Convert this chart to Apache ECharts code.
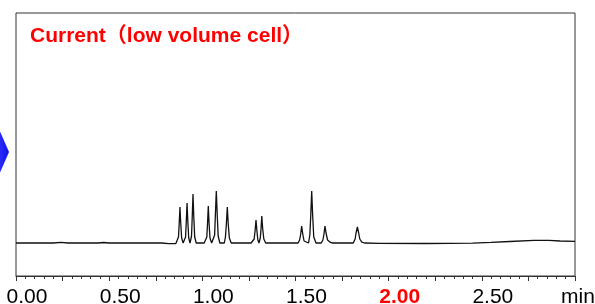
<!DOCTYPE html>
<html>
<head>
<meta charset="utf-8">
<script src="https://cdn.jsdelivr.net/npm/echarts@6/dist/echarts.min.js"></script>
<style>
  html, body { margin: 0; padding: 0; background: #fff; }
  #chart { width: 595px; height: 304px; }
</style>
</head>
<body>
<div id="chart"></div>
<script>
// chromatogram trace, [time (min), signal]
const trace = [
  [0.00, 0], [0.20, 0], [0.24, 0.6], [0.28, 0], [0.44, 0], [0.47, 0.5], [0.50, 0],
  [0.78, 0], [0.82, -0.6], [0.858, -0.6],
  [0.866, 0], [0.872, 6], [0.876, 20], [0.880, 36], [0.884, 20], [0.889, 5], [0.897, 0],
  [0.904, 0], [0.910, 6], [0.914, 22], [0.918, 40], [0.922, 22], [0.927, 5], [0.934, 0],
  [0.938, 0], [0.942, 7], [0.946, 27], [0.950, 49], [0.954, 27], [0.959, 6], [0.967, 0],
  [1.010, 0],
  [1.018, 0], [1.024, 6], [1.028, 20], [1.032, 37], [1.036, 20], [1.041, 5], [1.050, 0],
  [1.060, 0], [1.066, 8], [1.070, 28], [1.075, 52], [1.080, 28], [1.085, 7], [1.094, 0],
  [1.118, 0], [1.124, 6], [1.129, 19], [1.134, 36], [1.139, 19], [1.145, 5], [1.155, 0],
  [1.262, 0],
  [1.272, 0], [1.278, 4], [1.283, 12], [1.288, 23], [1.293, 12], [1.298, 3], [1.304, 0],
  [1.307, 0], [1.311, 5], [1.315, 14], [1.319, 27], [1.324, 14], [1.330, 4], [1.340, 0],
  [1.385, 0], [1.395, 1.2], [1.405, 0], [1.420, 0], [1.429, 1], [1.438, 0],
  [1.514, 0], [1.522, 3], [1.528, 9], [1.533, 17], [1.539, 9], [1.546, 2], [1.556, 0],
  [1.570, 0], [1.577, 8], [1.582, 28], [1.587, 52], [1.592, 28], [1.598, 6], [1.610, 0],
  [1.638, 0], [1.647, 3], [1.653, 9], [1.658, 17], [1.664, 10], [1.672, 3], [1.688, 0.6], [1.700, 0],
  [1.810, 0], [1.820, 4], [1.825, 10], [1.832, 16], [1.839, 10], [1.845, 4], [1.856, 0.8], [1.870, 0],
  [1.95, -0.4], [2.20, -0.5], [2.45, -0.2], [2.55, 0.6], [2.65, 1.5], [2.78, 2.6], [2.86, 2.7],
  [2.92, 2.0], [3.00, 1.6]
]

const tickValues = [0, 0.5, 1.0, 1.5, 2.0, 2.5, 3.0]
const tickLabels = ['0.00', '0.50', '1.00', '1.50', '2.00', '2.50', 'min']
const highlightLabel = '2.00'
const titleText = 'Current（low volume cell）'

const chart = echarts.init(document.getElementById('chart'))

function labelFor(v) {
  const i = tickValues.findIndex(t => Math.abs(t - v) < 1e-6)
  if (i < 0) return ''
  const txt = tickLabels[i]
  if (txt === highlightLabel) return '{r|' + txt + '}'
  if (txt === 'min') return '{m|' + txt + '}'
  return txt
}

const option = {
  animation: false,
  title: {
    text: titleText,
    left: 30,
    top: 26,
    padding: 0,
    textStyle: {
      color: '#ff0000',
      fontSize: 21,
      fontWeight: 'bold',
      fontFamily: 'Arial, "Liberation Sans", "Noto Sans CJK JP", sans-serif'
    }
  },
  grid: {
    left: 16,
    top: 13,
    right: 20,
    bottom: 28,
    outerBoundsMode: 'none',
    containLabel: false,
    show: true,
    borderColor: '#333',
    borderWidth: 1
  },
  xAxis: {
    type: 'value',
    min: 0,
    max: 3,
    interval: 0.25,
    axisLine: { show: true, onZero: false, lineStyle: { color: '#333', width: 1 } },
    axisTick: { show: true, inside: false, length: 5, lineStyle: { color: '#333' } },
    minorTick: { show: true, splitNumber: 5, length: 3, lineStyle: { color: '#333' } },
    splitLine: { show: false },
    axisLabel: {
      margin: 11,
      color: '#000',
      fontSize: 21,
      fontFamily: 'Arial, "Liberation Sans", sans-serif',
      padding: [0, 0, 0, 22],
      showMinLabel: true,
      showMaxLabel: true,
      hideOverlap: false,
      formatter: labelFor,
      rich: {
        r: { color: '#ff0000', fontWeight: 'bold', fontSize: 21, fontFamily: 'Arial, "Liberation Sans", sans-serif' },
        m: { color: '#000', fontSize: 21, padding: [0, 16, 0, 0], fontFamily: 'Arial, "Liberation Sans", sans-serif' }
      }
    }
  },
  yAxis: {
    type: 'value',
    min: -33,
    max: 230,
    axisLine: { show: false },
    axisTick: { show: false },
    axisLabel: { show: false },
    splitLine: { show: false }
  },
  graphic: [
    {
      type: 'polygon',
      shape: { points: [[-6, 118], [9, 152], [-6, 186]] },
      style: {
        fill: new echarts.graphic.LinearGradient(0, 0, 1, 0, [
          { offset: 0, color: '#3a3aff' },
          { offset: 1, color: '#1010ee' }
        ])
      }
    }
  ],
  series: [
    {
      type: 'line',
      data: trace,
      showSymbol: false,
      smooth: false,
      lineStyle: { color: '#111', width: 1.3 }
    }
  ]
}

chart.setOption(option)
</script>
</body>
</html>
